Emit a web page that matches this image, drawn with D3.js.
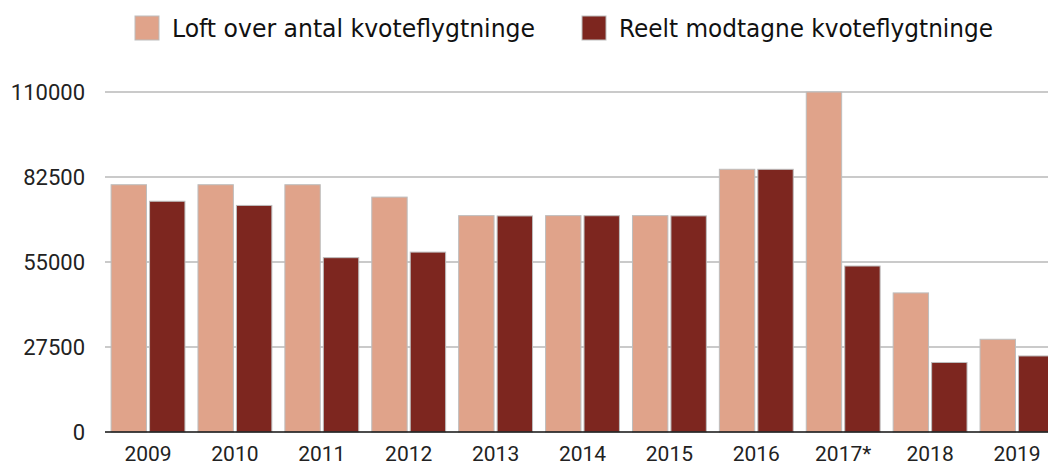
<!DOCTYPE html>
<html>
<head>
<meta charset="utf-8">
<script src="https://cdn.jsdelivr.net/npm/d3@7"></script>
<style>
  body { margin: 0; background: #fff; }
  svg { display: block; }
</style>
</head>
<body>
<svg width="1048" height="466"></svg>
<script>
// data
const years = ["2009", "2010", "2011", "2012", "2013", "2014", "2015", "2016", "2017*", "2018", "2019"];
const loft = [80000, 80000, 80000, 76000, 70000, 70000, 70000, 85000, 110000, 45000, 30000];
const reelt = [74650, 73300, 56400, 58200, 69900, 69970, 69920, 84990, 53700, 22490, 24600];
const seriesNames = ["Loft over antal kvoteflygtninge", "Reelt modtagne kvoteflygtninge"];
const seriesColors = ["#e0a38a", "#7d261f"];
const yTicks = [0, 27500, 55000, 82500, 110000];

const svg = d3.select("svg");

const x0 = d3.scaleBand()
  .domain(years)
  .range([105, 1060])
  .paddingInner(0.15)
  .paddingOuter(0.07);

const x1 = d3.scaleBand()
  .domain([0, 1])
  .range([0, x0.bandwidth()])
  .paddingInner(0.08);

const y = d3.scaleLinear()
  .domain([0, 110000])
  .range([432, 92]);

//grid
svg.append("g")
  .selectAll("line")
  .data(yTicks.filter(d => d > 0))
  .enter()
  .append("line")
  .attr("x1", 105)
  .attr("x2", 1048)
  .attr("y1", d => y(d))
  .attr("y2", d => y(d))
  .attr("stroke", "#b8b8b8")
  .attr("stroke-width", 1.5);

//y labels
svg.append("g")
  .selectAll("text")
  .data(yTicks)
  .enter()
  .append("text")
  .attr("x", 85)
  .attr("y", d => y(d))
  .attr("dy", "0.36em")
  .attr("text-anchor", "end")
  .attr("font-family", "Roboto")
  .attr("font-size", 22)
  .attr("fill", "#222")
  .text(d => d);

//bars
const rows = years.map((yr, i) => ({ year: yr, vals: [loft[i], reelt[i]] }));

const groups = svg.append("g")
  .selectAll("g")
  .data(rows)
  .enter()
  .append("g")
  .attr("transform", d => `translate(${x0(d.year)},0)`);

groups.selectAll("rect")
  .data(d => d.vals.map((v, k) => ({ k: k, v: v })))
  .enter()
  .append("rect")
  .attr("x", d => x1(d.k))
  .attr("width", x1.bandwidth())
  .attr("y", d => y(d.v))
  .attr("height", d => y(0) - y(d.v))
  .attr("fill", d => seriesColors[d.k])
  .attr("stroke", "#bdbdbd")
  .attr("stroke-width", 1);

//x axis line
svg.append("line")
  .attr("x1", 105)
  .attr("x2", 1048)
  .attr("y1", y(0))
  .attr("y2", y(0))
  .attr("stroke", "#111")
  .attr("stroke-width", 1.5);

//x labels
svg.append("g")
  .selectAll("text")
  .data(years)
  .enter()
  .append("text")
  .attr("x", d => x0(d) + x0.bandwidth() / 2)
  .attr("y", 461)
  .attr("text-anchor", "middle")
  .attr("font-family", "Roboto")
  .attr("font-size", 21)
  .attr("fill", "#222")
  .text(d => d);

//legend
const legendX = [135, 582];
const legendLen = [363, 374];
const legend = svg.append("g")
  .selectAll("g")
  .data(seriesNames)
  .enter()
  .append("g")
  .attr("transform", (d, i) => `translate(${legendX[i]},16)`);

legend.append("rect")
  .attr("width", 24)
  .attr("height", 24)
  .attr("fill", (d, i) => seriesColors[i])
  .attr("stroke", "#bdbdbd")
  .attr("stroke-width", 1);

legend.append("text")
  .attr("x", 37)
  .attr("y", 21)
  .attr("font-family", "DejaVu Sans Condensed")
  .attr("font-size", 24)
  .attr("fill", "#111")
  .attr("textLength", (d, i) => legendLen[i])
  .attr("lengthAdjust", "spacingAndGlyphs")
  .text(d => d);
</script>
</body>
</html>
